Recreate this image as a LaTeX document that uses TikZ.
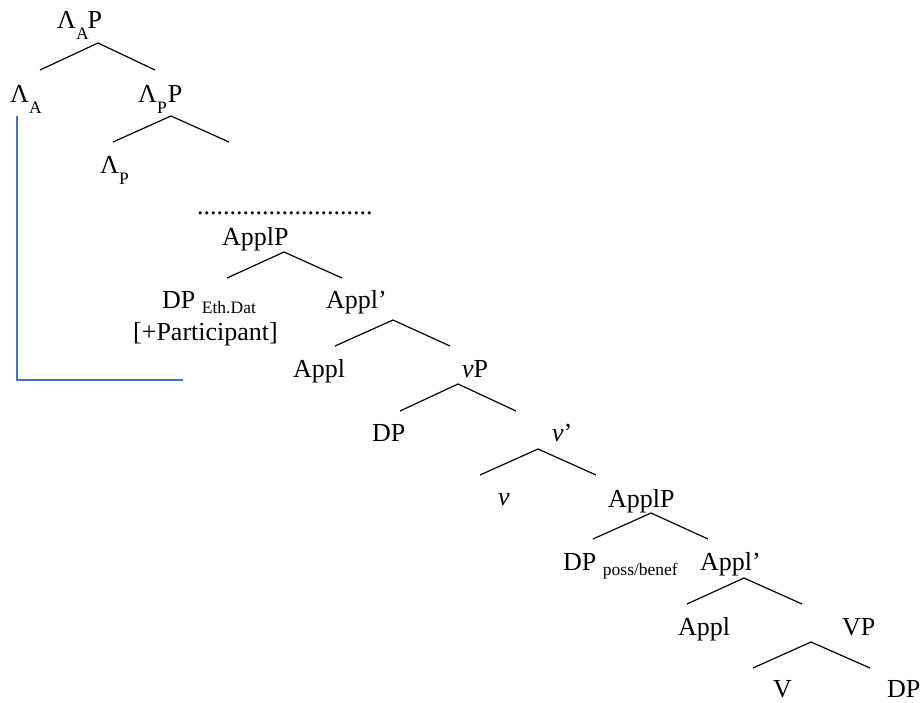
\documentclass[tikz,border=0pt]{standalone}
\usepackage{fontspec}
\setmainfont{Liberation Serif}
\newcommand\sbs[1]{{\fontsize{17.5}{18}\selectfont #1}}
\newcommand\lowsub[2]{\raisebox{-#1}{\sbs{#2}}}
\definecolor{bracketblue}{RGB}{68,114,196}
\begin{document}
\begin{tikzpicture}[x=1pt,y=-1pt,
  lab/.style={anchor=base west, inner sep=0pt, font=\fontsize{26}{30}\selectfont},
  branch/.style={line width=1.2pt, black},
  bracket/.style={line width=1.2pt, bracketblue}]
\useasboundingbox (0,0) rectangle (923,702);
% labels
\node[lab] (LAP) at (57,28) {Λ\lowsub{11pt}{A}\kern-1pt P};
\node[lab] (LA) at (10,102) {Λ\lowsub{11pt}{A}};
\node[lab] (LPP) at (138,102) {Λ\lowsub{11pt}{P}\kern1pt P};
\node[lab] (LP) at (100,173) {Λ\lowsub{11pt}{P}};
\node[lab] (dots) at (197,214) {...........................};
\node[lab] (ApplPa) at (222,245) {ApplP};
\node[lab] (DPeth) at (162,308) {DP \lowsub{5pt}{Eth.Dat}};
\node[lab] (Part) at (133,340) {[+Participant]};
\node[lab] (Applba) at (326,308) {Appl’};
\node[lab] (Appla) at (293,377) {Appl};
\node[lab] (vP) at (462,377) {\textit{v}P};
\node[lab] (DPb) at (372,441) {DP};
\node[lab] (vbar) at (552,441) {\textit{v}’};
\node[lab] (vhead) at (498,505) {\textit{v}};
\node[lab] (ApplPb) at (608,507) {ApplP};
\node[lab] (DPposs) at (563,570) {DP \lowsub{5pt}{poss/benef}};
\node[lab] (Applbb) at (700,570) {Appl’};
\node[lab] (Applb) at (678,635) {Appl};
\node[lab] (VP) at (842,635) {VP};
\node[lab] (V) at (773,697) {V};
\node[lab] (DPc) at (887,697) {DP};
% branch points
\coordinate (a1) at (98,43);  \coordinate (l1) at (40,70);  \coordinate (r1) at (155,70);
\coordinate (a2) at (171,116);\coordinate (l2) at (113,142);\coordinate (r2) at (229,142);
\coordinate (a3) at (284,252);\coordinate (l3) at (227,278);\coordinate (r3) at (342,278);
\coordinate (a4) at (393,320);\coordinate (l4) at (335,346);\coordinate (r4) at (450,346);
\coordinate (a5) at (458,384);\coordinate (l5) at (400,411);\coordinate (r5) at (516,411);
\coordinate (a6) at (538,449);\coordinate (l6) at (480,475);\coordinate (r6) at (596,475);
\coordinate (a7) at (651,513);\coordinate (l7) at (593,539);\coordinate (r7) at (708,539);
\coordinate (a8) at (744,578);\coordinate (l8) at (687,604);\coordinate (r8) at (802,604);
\coordinate (a9) at (811,642);\coordinate (l9) at (753,668);\coordinate (r9) at (870,668);
\foreach \i in {1,...,9} {
  \draw[branch] (l\i) -- (a\i) -- (r\i);
}
% blue bracket
\coordinate (bt) at (17,116);
\coordinate (bc) at (17,380);
\coordinate (be) at (183,380);
\draw[bracket] (bt) -- (bc) -- (be);
\end{tikzpicture}
\end{document}
